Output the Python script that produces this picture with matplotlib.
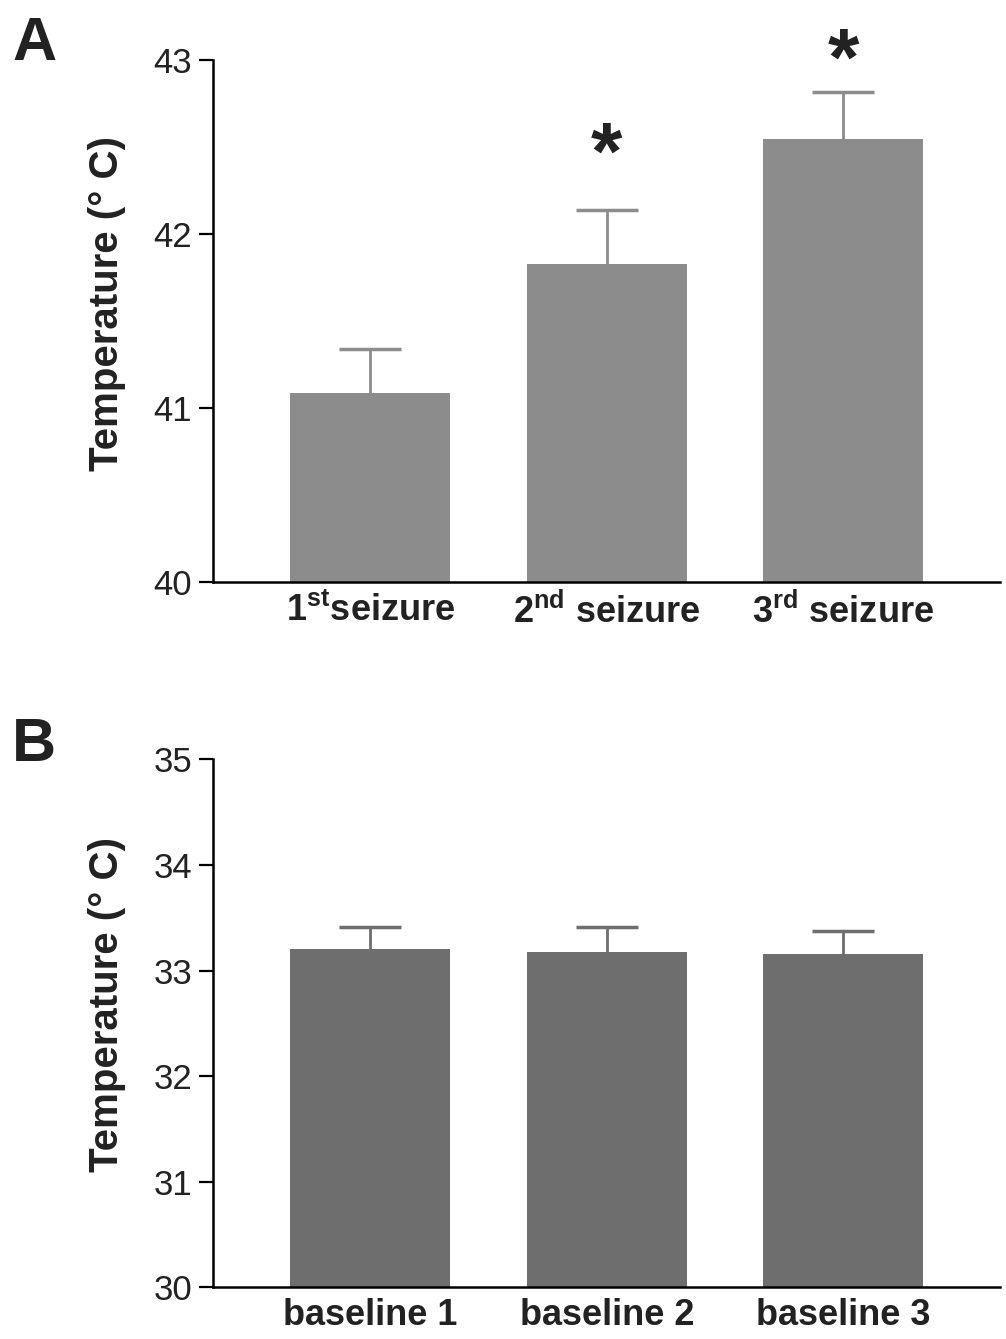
import numpy as np
import matplotlib
matplotlib.use('Agg')
import matplotlib.pyplot as plt

plt.rcParams['font.family'] = ['Liberation Sans', 'DejaVu Sans']
plt.rcParams['mathtext.fontset'] = 'custom'
plt.rcParams['mathtext.rm'] = 'Liberation Sans:bold'
plt.rcParams['mathtext.bf'] = 'Liberation Sans:bold'

# Panel A data
seizure_labels = [r'1$^{\mathbf{st}}$seizure', r'2$^{\mathbf{nd}}$ seizure', r'3$^{\mathbf{rd}}$ seizure']
seizure_temp = [41.09, 41.83, 42.55]
seizure_err = [0.25, 0.31, 0.27]
star_y = [None, 42.32, 42.86]   # baseline of the significance asterisks

# Panel B data
baseline_labels = ['baseline 1', 'baseline 2', 'baseline 3']
baseline_temp = [33.20, 33.18, 33.16]
baseline_err = [0.21, 0.23, 0.21]

fig = plt.figure(figsize=(10.06, 13.39), dpi=100)
axA = fig.add_axes([0.2117, 0.565, 0.782, 0.390])
axB = fig.add_axes([0.2117, 0.0388, 0.782, 0.394])

def style(ax, ylim, yticks):
    ax.set_xlim(-0.664, 2.66)
    ax.set_ylim(*ylim)
    ax.set_yticks(yticks)
    ax.spines['top'].set_visible(False)
    ax.spines['right'].set_visible(False)
    ax.spines['left'].set_linewidth(1.8)
    ax.spines['bottom'].set_linewidth(1.8)
    ax.tick_params(axis='y', length=10, width=1.6, labelsize=25, pad=5, labelcolor='#222222')
    ax.tick_params(axis='x', length=0, labelsize=26, pad=8, labelcolor='#222222')
    for t in ax.get_xticklabels():
        t.set_fontweight('bold')
    ax.set_ylabel('Temperature (° C)', fontsize=29, fontweight='bold', color='#222222')
    ax.yaxis.set_label_coords(-0.11, 0.535)

def bars(ax, temps, errs, base, color):
    x = np.arange(len(temps))
    ax.bar(x, [t - base for t in temps], bottom=base, width=0.676, color=color)
    _, caps, _ = ax.errorbar(x, temps, yerr=[np.zeros(len(x)), errs], fmt='none',
                             ecolor=color, elinewidth=2, capsize=22, capthick=2.5)
    caps[0].set_visible(False)
    return x

x = bars(axA, seizure_temp, seizure_err, 40, '#8c8c8c')
axA.set_xticks(x)
axA.set_xticklabels(seizure_labels)
style(axA, (40, 43), [40, 41, 42, 43])
for i in range(3):
    if star_y[i] is not None:
        axA.text(x[i], star_y[i], '*', ha='center', va='baseline',
                 fontsize=58, fontweight='bold', color='#222222', clip_on=False)

x = bars(axB, baseline_temp, baseline_err, 30, '#6e6e6e')
axB.set_xticks(x)
axB.set_xticklabels(baseline_labels)
style(axB, (30, 35), [30, 31, 32, 33, 34, 35])

fig.text(0.012, 0.955, 'A', fontsize=44, fontweight='bold', color='#222222')
fig.text(0.012, 0.432, 'B', fontsize=44, fontweight='bold', color='#222222')

fig.savefig('out.png', dpi=100)
